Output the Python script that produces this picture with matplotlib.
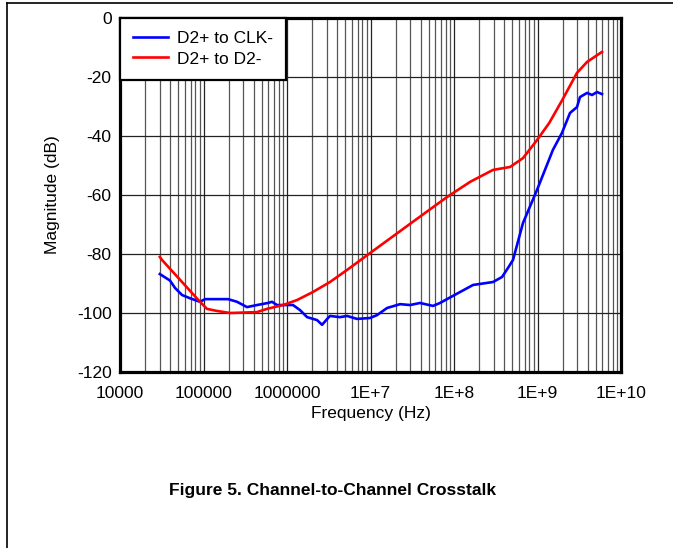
import matplotlib
matplotlib.use('Agg')
import matplotlib.pyplot as plt
from matplotlib.lines import Line2D

plt.rcParams['font.family'] = ['Liberation Sans', 'DejaVu Sans']

# D2+ to CLK-  (frequency Hz, magnitude dB)
clk_freq = [3.0e4, 3.97e4, 4.56e4, 5.53e4, 6.89e4, 9.08e4, 1.04e5, 1.45e5, 1.97e5, 2.52e5,
            3.32e5, 4.37e5, 5.92e5, 6.61e5, 7.59e5, 1.18e6, 1.43e6, 1.74e6, 2.29e6, 2.63e6,
            3.10e6, 3.27e6, 4.31e6, 5.24e6, 6.89e6, 9.86e6, 1.20e7, 1.58e7, 2.26e7, 2.97e7,
            3.92e7, 5.61e7, 6.80e7, 8.24e7, 1.18e8, 1.69e8, 2.48e8, 2.93e8, 3.76e8, 4.44e8,
            5.09e8, 6.70e8, 9.86e8, 1.53e9, 1.96e9, 2.45e9, 2.97e9, 3.23e9, 3.92e9, 4.50e9,
            5.16e9, 5.92e9]
clk_db = [-86.8, -89.0, -91.5, -93.9, -95.0, -96.2, -95.3, -95.3, -95.3, -96.2,
          -98.0, -97.3, -96.6, -96.2, -97.3, -97.3, -99.0, -101.4, -102.4, -104.0,
          -101.7, -101.0, -101.4, -101.0, -102.0, -101.7, -100.7, -98.3, -97.0, -97.3,
          -96.6, -97.6, -96.6, -95.3, -92.9, -90.5, -89.8, -89.5, -87.8, -84.7,
          -82.0, -69.5, -58.3, -44.7, -39.0, -32.2, -30.2, -26.8, -25.4, -26.1,
          -25.1, -25.8]

# D2+ to D2-
d2_freq = [3.0e4, 3.18e4, 5.66e4, 9.08e4, 1.10e5, 1.45e5, 2.08e5, 4.37e5, 5.76e5, 8.97e5,
           1.32e6, 2.04e6, 3.27e6, 5.24e6, 9.86e6, 2.97e7, 8.24e7, 1.57e8, 2.93e8, 4.69e8,
           6.70e8, 9.86e8, 1.38e9, 1.98e9, 2.97e9, 3.92e9, 5.92e9]
d2_db = [-81.0, -82.0, -89.8, -96.2, -98.6, -99.3, -100.0, -99.7, -98.6, -97.3,
         -95.6, -92.9, -89.5, -85.4, -79.7, -69.8, -60.7, -55.5, -51.5, -50.5,
         -47.5, -41.4, -35.6, -27.8, -18.6, -14.9, -11.5]

xticks = [1e4, 1e5, 1e6, 1e7, 1e8, 1e9, 1e10]
xtick_labels = ['10000', '100000', '1000000', '1E+7', '1E+8', '1E+9', '1E+10']
yticks = [0, -20, -40, -60, -80, -100, -120]

fig = plt.figure(figsize=(6.73, 5.48), dpi=100)
ax = fig.add_axes([120 / 673, 1 - 372 / 548, 501 / 673, 354 / 548])

ax.plot(clk_freq, clk_db, color='#0000ff', lw=1.9, label='D2+ to CLK-', zorder=3)
ax.plot(d2_freq, d2_db, color='#ff0000', lw=1.9, label='D2+ to D2-', zorder=3)

ax.set_xscale('log')
ax.set_xlim(1e4, 1e10)
ax.set_ylim(-120, 0)
ax.set_xticks(xticks)
ax.set_xticklabels(xtick_labels)
ax.xaxis.set_minor_formatter(plt.NullFormatter())
ax.set_yticks(yticks)
ax.set_yticklabels([str(v) for v in yticks])
ax.tick_params(which='both', length=0, labelsize=12.5)
ax.tick_params(axis='x', pad=10)
ax.tick_params(axis='y', pad=6)

ax.grid(True, which='major', color='#222222', lw=0.9)
ax.grid(True, which='minor', axis='x', color='#555555', lw=0.9)
ax.set_axisbelow(True)
for s in ax.spines.values():
    s.set_linewidth(2.3)

ax.set_xlabel('Frequency (Hz)', fontsize=12.5, labelpad=4)
ax.set_ylabel('Magnitude (dB)', fontsize=12.5, labelpad=12)

leg = ax.legend(loc='upper left', fontsize=12.5, fancybox=False, framealpha=1,
                edgecolor='black', borderaxespad=0, handlelength=2.0,
                handletextpad=0.55, labelspacing=0.3, borderpad=0.75)
leg.get_frame().set_linewidth(1.6)

fig.text(333 / 673, 1 - 490 / 548, 'Figure 5. Channel-to-Channel Crosstalk',
         fontsize=12.5, fontweight='bold', ha='center', va='center')

# page frame lines (top and left)
fig.add_artist(Line2D([7 / 673, 1], [1 - 3 / 548, 1 - 3 / 548], color='black', lw=1.2))
fig.add_artist(Line2D([7 / 673, 7 / 673], [0, 1 - 3 / 548], color='black', lw=1.2))

fig.savefig('out.png', dpi=100)
